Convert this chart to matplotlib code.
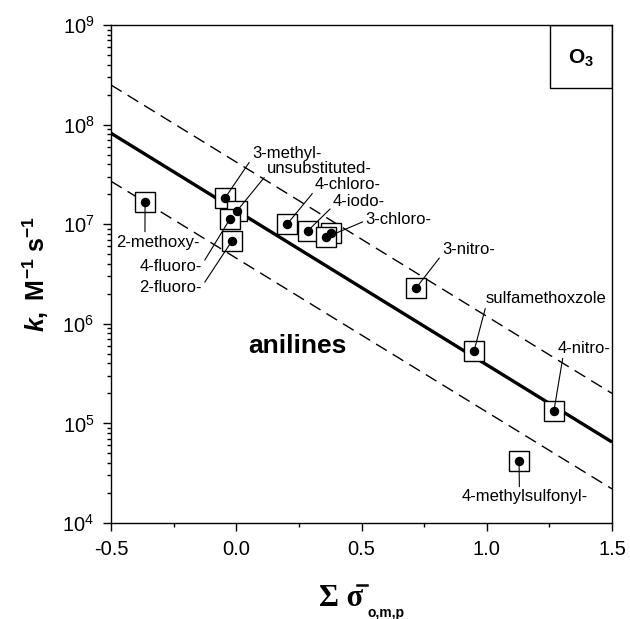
import matplotlib
matplotlib.use("Agg")
import matplotlib.pyplot as plt
from matplotlib.patches import Rectangle
from matplotlib.lines import Line2D
from matplotlib.ticker import MultipleLocator, LogLocator, NullFormatter

plt.rcParams['font.family'] = ['Liberation Sans', 'DejaVu Sans']
plt.rcParams['mathtext.fontset'] = 'custom'
plt.rcParams['mathtext.rm'] = 'Liberation Sans'
plt.rcParams['mathtext.it'] = 'Liberation Sans:italic'
plt.rcParams['mathtext.bf'] = 'Liberation Sans:bold'
plt.rcParams['mathtext.bfit'] = 'Liberation Sans:bold:italic'

# ---------------- data ----------------
names = ['2-methoxy-', '3-methyl-', 'unsubstituted-', '4-fluoro-', '2-fluoro-',
         '4-chloro-', '4-iodo-', '', '3-chloro-', '3-nitro-',
         'sulfamethoxzole', '4-nitro-', '4-methylsulfonyl-']
sigma = [-0.364, -0.045, 0.003, -0.025, -0.017,
         0.203, 0.286, 0.38, 0.36, 0.718,
         0.949, 1.268, 1.129]
k_vals = [1.67e7, 1.83e7, 1.36e7, 1.13e7, 6.8e6,
          1.0e7, 8.6e6, 8.1e6, 7.4e6, 2.29e6,
          5.3e5, 1.33e5, 4.2e4]

line_x = [-0.5, 1.5]
fit_k = [8.2e7, 6.5e4]
upper_k = [2.5e8, 2.0e5]
lower_k = [2.7e7, 2.2e4]

x_ticks = [-0.5, 0.0, 0.5, 1.0, 1.5]

# label placement: (dx px, dy px, ha, relpos) relative to point
label_style = {
    '2-methoxy-':       (55, -40, 'right', (0.34, 1.0)),
    '3-methyl-':        (27, 45, 'left', (0.0, 0.15)),
    'unsubstituted-':   (30, 42, 'left', (0.0, 0.15)),
    '4-fluoro-':        (-28, -48, 'right', (1.0, 0.65)),
    '2-fluoro-':        (-30, -47, 'right', (1.0, 0.6)),
    '4-chloro-':        (28, 40, 'left', (0.0, 0.1)),
    '4-iodo-':          (25, 29, 'left', (0.0, 0.2)),
    '3-chloro-':        (39, 18, 'left', (0.0, 0.4)),
    '3-nitro-':         (26, 38, 'left', (0.0, 0.2)),
    'sulfamethoxzole':  (12, 53, 'left', (0.0, 0.0)),
    '4-nitro-':         (4, 63, 'left', (0.1, 0.0)),
    '4-methylsulfonyl-': (6, -36, 'center', (0.455, 1.0)),
}

# ---------------- figure ----------------
fig = plt.figure(figsize=(6.3, 6.19), dpi=100)
ax = fig.add_axes([111/630, 1 - 523/619, 501/630, 498/619])

ax.set_xlim(-0.5, 1.5)
ax.set_yscale('log')
ax.set_ylim(1e4, 1e9)

ax.plot(line_x, fit_k, color='black', lw=2.4, solid_capstyle='butt', zorder=2)
ax.plot(line_x, upper_k, color='black', lw=1.0, dashes=(9, 5), zorder=2)
ax.plot(line_x, lower_k, color='black', lw=1.0, dashes=(9, 5), zorder=2)

for xv, kv in zip(sigma, k_vals):
    ax.plot([xv], [kv], marker='s', ms=15, mfc='white', mec='black', mew=1.0,
            ls='none', zorder=3)
ax.plot(sigma, k_vals, marker='o', ms=5.8, color='black', ls='none', zorder=5)

for name, xv, kv in zip(names, sigma, k_vals):
    if name not in label_style:
        continue
    dx, dy, ha, rp = label_style[name]
    ax.annotate(name, xy=(xv, kv), xytext=(dx, dy), textcoords='offset pixels',
                ha=ha, va='center', fontsize=12, zorder=6,
                arrowprops=dict(arrowstyle='-', color='black', lw=0.8,
                                shrinkA=0, shrinkB=0, relpos=rp))

ax.text(0.372, 0.355, 'anilines', transform=ax.transAxes, fontsize=19,
        fontweight='bold', ha='center', va='center')

# O3 box
ax.add_patch(Rectangle((0.876, 0.8735), 0.124, 0.1265, transform=ax.transAxes,
                       fill=False, ec='black', lw=1.0, zorder=6))
ax.text(0.938, 0.934, r'$\mathbf{O_3}$', transform=ax.transAxes, fontsize=15,
        ha='center', va='center', zorder=7)

# ticks
ax.set_xticks(x_ticks)
ax.set_xticklabels([f'{v:.1f}' for v in x_ticks])
ax.xaxis.set_minor_locator(MultipleLocator(0.25))
ax.yaxis.set_major_locator(LogLocator(base=10, numticks=10))
ax.yaxis.set_minor_locator(LogLocator(base=10, subs=range(2, 10), numticks=20))
ax.yaxis.set_minor_formatter(NullFormatter())
ax.tick_params(which='both', direction='out', top=False, right=False,
               labelsize=14.5, width=1.0, color='black')
ax.tick_params(which='major', length=6, pad=6)
ax.tick_params(which='minor', length=3)
for s in ax.spines.values():
    s.set_linewidth(1.0)

ax.set_ylabel(r'$\mathbfit{k}\mathbf{,\ M^{-1}\ s^{-1}}$', fontsize=18, labelpad=8)

# x label composed
fig.text(341/630, 1 - 599/619, 'Σ σ', fontfamily='Liberation Serif',
         fontweight='bold', fontsize=22, ha='center', va='center')
fig.add_artist(Line2D([357/630, 367/630], [1 - 585/619, 1 - 585/619],
                      transform=fig.transFigure, color='black', lw=1.8))
fig.text(367/630, 1 - 613/619, 'o,m,p', fontfamily='Liberation Sans',
         fontweight='bold', fontsize=10, ha='left', va='center')

fig.savefig('out.png', dpi=100)
